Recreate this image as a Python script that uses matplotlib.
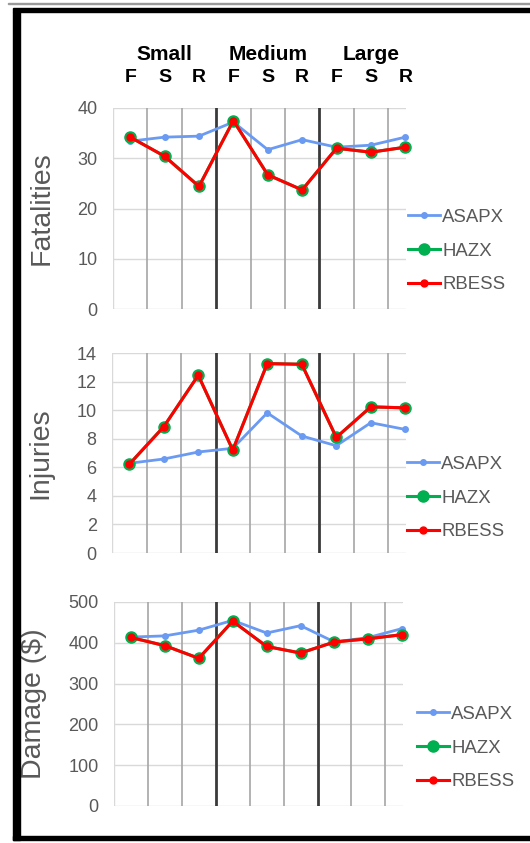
import matplotlib
matplotlib.use('Agg')
import matplotlib.pyplot as plt
import matplotlib.transforms as mtransforms
from matplotlib.patches import Rectangle
import numpy as np

plt.rcParams['font.family'] = ['Liberation Sans', 'DejaVu Sans']

groups = ['Small', 'Medium', 'Large']
subcats = ['F', 'S', 'R', 'F', 'S', 'R', 'F', 'S', 'R']
series = ['ASAPX', 'HAZX', 'RBESS']

fat_asapx = [33.4, 34.2, 34.4, 37.2, 31.7, 33.7, 32.2, 32.6, 34.2]
fat_hazx = [34.2, 30.4, 24.4, 37.5, 26.7, 23.7, 32.0, 31.2, 32.2]
fat_rbess = [34.2, 30.4, 24.4, 37.5, 26.7, 23.7, 32.0, 31.2, 32.2]

inj_asapx = [6.28, 6.58, 7.07, 7.33, 9.81, 8.19, 7.51, 9.12, 8.65]
inj_hazx = [6.21, 8.84, 12.44, 7.21, 13.26, 13.21, 8.09, 10.23, 10.16]
inj_rbess = [6.21, 8.84, 12.44, 7.21, 13.26, 13.21, 8.09, 10.23, 10.16]

dmg_asapx = [414, 417, 431, 455, 424, 442, 402, 413, 435]
dmg_hazx = [413, 393, 362, 453, 391, 375, 402, 410, 420]
dmg_rbess = [413, 393, 362, 453, 391, 375, 402, 410, 420]

W, H = 530, 843
fig = plt.figure(figsize=(W / 100, H / 100), dpi=100)
fig.patch.set_facecolor('white')


def px_axes(left, top, right, bottom):
    return fig.add_axes([left / W, 1 - bottom / H, (right - left) / W, (bottom - top) / H])


panels = [
    dict(box=(113, 108, 406, 309), data=(fat_asapx, fat_hazx, fat_rbess), ymax=40, step=10,
         label='Fatalities', lab_x=55, leg_x=408, leg_y=251),
    dict(box=(112, 353, 406, 553), data=(inj_asapx, inj_hazx, inj_rbess), ymax=14, step=2,
         label='Injuries', lab_x=53, leg_x=407, leg_y=498),
    dict(box=(114, 602, 403, 806), data=(dmg_asapx, dmg_hazx, dmg_rbess), ymax=500, step=100,
         label='Damage ($)', lab_x=47, leg_x=417, leg_y=748),
]

blue = '#6A9AF2'
green = '#00B050'
red = '#FF0000'
tick_col = '#595959'

x = np.arange(len(subcats))
axes = []
for p in panels:
    ax = px_axes(*p['box'])
    axes.append(ax)
    a, h, r = p['data']
    ax.set_xlim(-0.5, 8.02)
    ax.set_ylim(0, p['ymax'])
    ax.set_yticks(np.arange(0, p['ymax'] + p['step'] / 2, p['step']))
    ax.set_xticks([])
    for s in ax.spines.values():
        s.set_visible(False)
    ax.tick_params(axis='y', length=0, pad=11, labelsize=13, labelcolor=tick_col)
    ax.yaxis.grid(True, color='#D9D9D9', linewidth=1.0)
    ax.set_axisbelow(True)
    ax.axvline(-0.5, color='#D9D9D9', linewidth=1.0, zorder=0)
    for b in np.arange(0.5, 8, 1.0):
        if b in (2.5, 5.5):
            ax.axvline(b, color='#3A3A3A', linewidth=2.0, zorder=1)
        else:
            ax.axvline(b, color='#A6A6A6', linewidth=1.2, zorder=1)
    ax.plot(x, a, color=blue, linewidth=2.0, marker='o', markersize=4, label=series[0], zorder=3,
            clip_on=False)
    ax.plot(x, h, color=green, linewidth=2.2, marker='o', markersize=8, label=series[1], zorder=4,
            clip_on=False)
    ax.plot(x, r, color=red, linewidth=2.2, marker='o', markersize=5, label=series[2], zorder=5,
            clip_on=False)
    ax.set_ylabel(p['label'], fontsize=20.5, color=tick_col)
    ax.yaxis.set_label_coords((p['lab_x'] - p['box'][0]) / (p['box'][2] - p['box'][0]), 0.5)
    leg = ax.legend(loc='center left', bbox_to_anchor=(p['leg_x'] / W, 1 - p['leg_y'] / H),
                    bbox_transform=fig.transFigure, frameon=False, fontsize=13.4,
                    handlelength=1.7, handletextpad=0.15, labelspacing=0.9,
                    borderpad=0, borderaxespad=0)
    for t in leg.get_texts():
        t.set_color(tick_col)

# header labels
ax0 = axes[0]
trans = mtransforms.blended_transform_factory(ax0.transData, fig.transFigure)
for i, s in enumerate(subcats):
    ax0.text(x[i], 1 - 77 / H, s, transform=trans, ha='center', va='center',
             fontsize=14, fontweight='bold', color='black')
for gi, g in enumerate(groups):
    ax0.text(x[gi * 3 + 1], 1 - 54 / H, g, transform=trans, ha='center', va='center',
             fontsize=15, fontweight='bold', color='black')

# border frame
fig.patches.append(Rectangle((8 / W, 1 - 4 / H), 1, 1.2 / H, transform=fig.transFigure,
                             color='#9A9A9A', zorder=0))
fig.patches.append(Rectangle((13 / W, 1 - 12 / H), 1, 3.5 / H, transform=fig.transFigure,
                             color='black'))
fig.patches.append(Rectangle((13 / W, 1 - 840 / H), 7 / W, 828 / H, transform=fig.transFigure,
                             color='black'))
fig.patches.append(Rectangle((13 / W, 1 - 840 / H), 1, 4 / H, transform=fig.transFigure,
                             color='black'))

fig.savefig('out.png', dpi=100)
